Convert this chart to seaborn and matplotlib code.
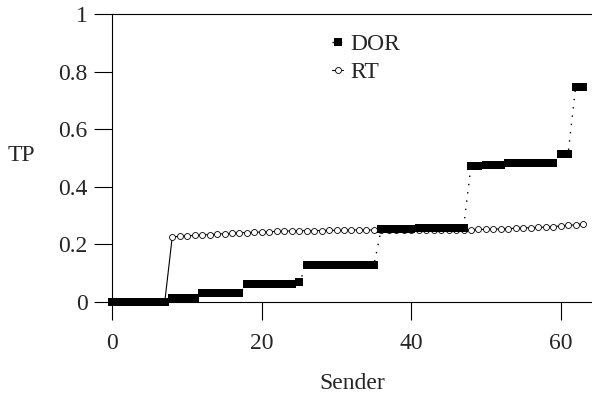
import numpy as np
import pandas as pd
import seaborn as sns
import matplotlib.pyplot as plt
from matplotlib.lines import Line2D
from matplotlib.legend_handler import HandlerLine2D

# data
sender = list(range(64))

dor = ([0.0] * 8 + [0.014] * 4 + [0.031] * 6 + [0.062] * 7 + [0.068]
       + [0.128] * 10 + [0.254] * 5 + [0.258] * 7
       + [0.472] * 2 + [0.477] * 3 + [0.483] * 7 + [0.514] * 2 + [0.745] * 2)

rt = ([0.0] * 8
      + [0.226, 0.228, 0.230, 0.231, 0.233, 0.234, 0.236, 0.237, 0.238, 0.240,
         0.241, 0.242, 0.243, 0.244, 0.245, 0.246, 0.247, 0.247, 0.248, 0.248,
         0.248, 0.249, 0.249, 0.249, 0.250, 0.250, 0.250, 0.250]
      + [0.251] * 12
      + [0.251, 0.252, 0.252, 0.253, 0.254, 0.255, 0.256, 0.257, 0.258, 0.259,
         0.260, 0.262, 0.264, 0.266, 0.268, 0.272])

df = pd.DataFrame({"Sender": sender, "DOR": dor, "RT": rt})


class MarkerLeft(HandlerLine2D):
    # marker at the left end of the handle, line running to the right
    def get_xdata(self, legend, xdescent, ydescent, width, height, fontsize):
        pad = 0.3 * fontsize
        return (np.array([-xdescent + pad, -xdescent + width]),
                np.array([-xdescent + pad]))


sns.set_theme(style="white")
plt.rcParams['font.family'] = ['Liberation Serif', 'DejaVu Serif']
plt.rcParams['font.size'] = 17

fig = plt.figure(figsize=(5.92, 3.93), dpi=100)
ax = fig.add_axes([0.19, 0.2316, 0.81, 0.7328])

rt_style = dict(color="black", lw=0.8, marker="o", markersize=4.3,
                markerfacecolor="white", markeredgecolor="black",
                markeredgewidth=0.6)
dor_style = dict(color="black", lw=1.0, linestyle=(0, (1, 5)), marker="s",
                 markersize=6.3, markeredgewidth=0)

sns.lineplot(data=df, x="Sender", y="RT", ax=ax, clip_on=False, zorder=2,
             **rt_style)
sns.lineplot(data=df, x="Sender", y="DOR", ax=ax, clip_on=False, zorder=3,
             **dor_style)

ax.set_xlim(0, 64.2)
ax.set_ylim(0, 1)
ax.set_xticks([0, 20, 40, 60])
ax.set_yticks([0, 0.2, 0.4, 0.6, 0.8, 1])
ax.set_yticklabels(["0", "0.2", "0.4", "0.6", "0.8", "1"])
ax.tick_params(axis="both", direction="out", length=13, width=0.8,
               color="black", labelsize=17, bottom=True, left=True)
ax.tick_params(axis="y", pad=5)
ax.tick_params(axis="x", pad=9)

for side in ["left", "top", "bottom"]:
    ax.spines[side].set_color("black")
    ax.spines[side].set_linewidth(0.8)
ax.spines["right"].set_visible(False)

ax.set_xlabel("Sender", fontsize=17, labelpad=14)
ax.set_ylabel("TP", fontsize=17, rotation=0, ha="center", va="center")
ax.yaxis.set_label_coords(-0.19, 0.51)

handles = [Line2D([], [], **dor_style), Line2D([], [], **rt_style)]
ax.legend(handles, ["DOR", "RT"], loc="upper left",
          bbox_to_anchor=(0.419, 0.972), frameon=False, fontsize=17,
          handlelength=0.76, handletextpad=0.29, labelspacing=0.26,
          borderpad=0, handler_map={Line2D: MarkerLeft()})

fig.savefig("out.png", dpi=100)
